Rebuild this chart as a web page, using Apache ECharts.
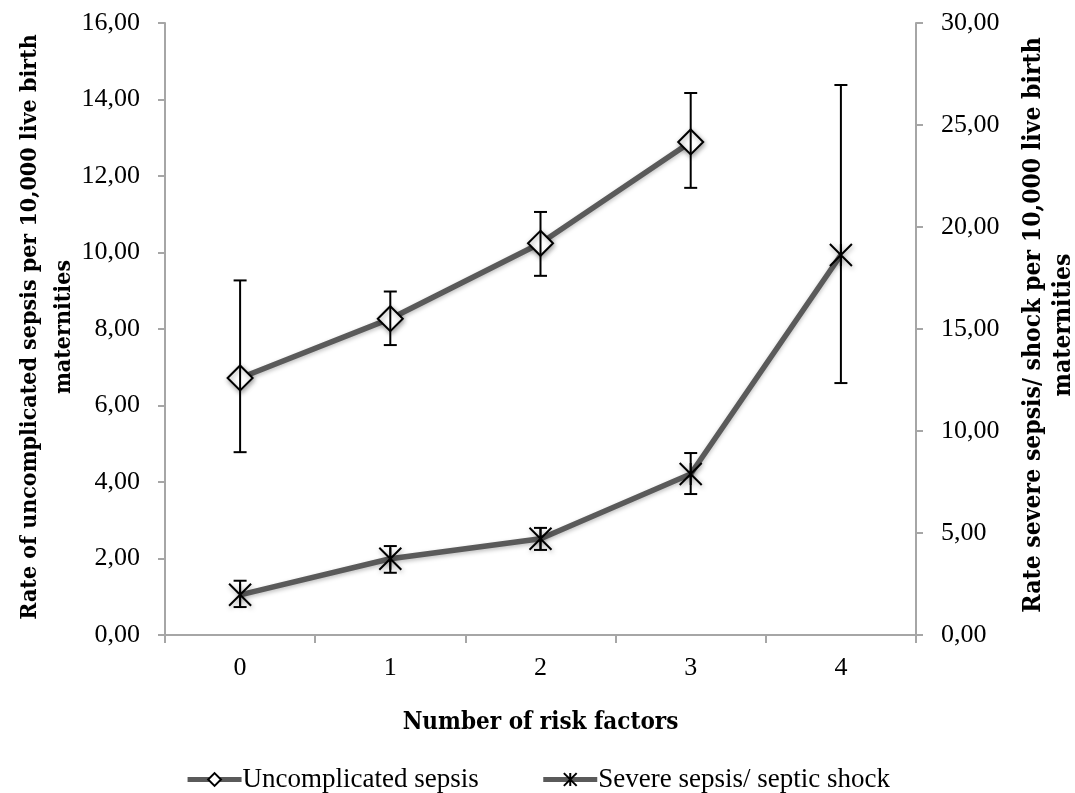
<!DOCTYPE html>
<html>
<head>
<meta charset="utf-8">
<script src="https://cdn.jsdelivr.net/npm/echarts@6/dist/echarts.min.js"></script>
<style>
  html, body { margin: 0; padding: 0; background: #fff; }
  #chart { width: 1075px; height: 793px; }
</style>
</head>
<body>
<div id="chart"></div>
<script>
// Number of risk factors
const categories = ['0', '1', '2', '3', '4'];

// Uncomplicated sepsis rate (left axis) with confidence limits
const uncomplicated = [6.72, 8.27, 10.24, 12.89, null];
const uncomplicatedLow = [4.78, 7.58, 9.39, 11.69, null];
const uncomplicatedHigh = [9.27, 8.98, 11.06, 14.17, null];

// Severe sepsis / septic shock rate (right axis) with confidence limits
const severe = [1.97, 3.74, 4.72, 7.89, 18.63];
const severeLow = [1.37, 3.05, 4.17, 6.91, 12.35];
const severeHigh = [2.66, 4.36, 5.25, 8.92, 26.96];

const fmt = v => v.toFixed(2).replace('.', ',');
const serif = '"Liberation Serif", "DejaVu Serif", serif';
const titleFont = '"DejaVu Serif Condensed", "DejaVu Serif", serif';

function errorData(low, high) {
  const out = [];
  categories.forEach((c, i) => {
    if (low[i] != null && high[i] != null) out.push([i, low[i], high[i]]);
  });
  return out;
}

function errorBar(params, api) {
  const x = api.value(0);
  const p1 = api.coord([x, api.value(1)]);
  const p2 = api.coord([x, api.value(2)]);
  const cap = 6.5;
  const style = { stroke: '#000', lineWidth: 2 };
  return {
    type: 'group',
    children: [
      { type: 'line', shape: { x1: p1[0], y1: p1[1], x2: p2[0], y2: p2[1] }, style },
      { type: 'line', shape: { x1: p1[0] - cap, y1: p1[1], x2: p1[0] + cap, y2: p1[1] }, style },
      { type: 'line', shape: { x1: p2[0] - cap, y1: p2[1], x2: p2[0] + cap, y2: p2[1] }, style }
    ]
  };
}

const axisGray = '#a6a6a6';
const lineGray = '#5a5a5a';
const markerShadow = { shadowBlur: 5, shadowColor: 'rgba(0,0,0,0.35)', shadowOffsetX: 1, shadowOffsetY: 2 };
const lineShadow = { shadowBlur: 4, shadowColor: 'rgba(0,0,0,0.25)', shadowOffsetY: 2 };

const chart = echarts.init(document.getElementById('chart'));
chart.setOption({
  animation: false,
  backgroundColor: '#fff',
  grid: { left: 165, right: 159, top: 23, bottom: 158 },
  legend: {
    top: 761,
    left: 'center',
    itemWidth: 54,
    itemHeight: 16,
    itemGap: 62,
    lineStyle: { width: 5, color: lineGray, shadowBlur: 0 },
    itemStyle: { shadowBlur: 0, borderWidth: 2 },
    textStyle: { fontFamily: serif, fontSize: 27, color: '#000', padding: [0, 0, 0, -4] },
    data: ['Uncomplicated sepsis', 'Severe sepsis/ septic shock']
  },
  xAxis: {
    type: 'category',
    data: categories,
    boundaryGap: true,
    axisLine: { lineStyle: { color: axisGray, width: 2 } },
    axisTick: { show: true, length: 8, lineStyle: { color: axisGray, width: 2 } },
    axisLabel: { fontFamily: serif, fontSize: 26, color: '#000', margin: 20 },
    name: 'Number of risk factors',
    nameLocation: 'middle',
    nameGap: 76,
    nameTextStyle: { fontFamily: titleFont, fontWeight: 'bold', fontSize: 24, color: '#000' }
  },
  yAxis: [
    {
      type: 'value', min: 0, max: 16, interval: 2, position: 'left',
      splitLine: { show: false },
      axisLine: { show: true, lineStyle: { color: axisGray, width: 2 } },
      axisTick: { show: true, length: 7, lineStyle: { color: axisGray, width: 2 } },
      axisLabel: { formatter: fmt, fontFamily: serif, fontSize: 26, color: '#000', margin: 25 }
    },
    {
      type: 'value', min: 0, max: 30, interval: 5, position: 'right',
      splitLine: { show: false },
      axisLine: { show: true, lineStyle: { color: axisGray, width: 2 } },
      axisTick: { show: true, length: 7, lineStyle: { color: axisGray, width: 2 } },
      axisLabel: { formatter: fmt, fontFamily: serif, fontSize: 26, color: '#000', margin: 25 }
    }
  ],
  graphic: [
    {
      type: 'text', x: 47, y: 327, rotation: Math.PI / 2,
      style: {
        text: 'Rate of uncomplicated sepsis per 10,000 live birth\nmaternities',
        font: 'bold 23px ' + titleFont, fill: '#000',
        align: 'center', verticalAlign: 'middle', lineHeight: 34
      }
    },
    {
      type: 'text', x: 1049, y: 325, rotation: Math.PI / 2,
      style: {
        text: 'Rate severe sepsis/ shock per 10,000 live birth\nmaternities',
        font: 'bold 24.5px ' + titleFont, fill: '#000',
        align: 'center', verticalAlign: 'middle', lineHeight: 30
      }
    }
  ],
  series: [
    {
      name: 'Uncomplicated sepsis',
      type: 'line',
      yAxisIndex: 0,
      data: uncomplicated,
      symbol: 'diamond',
      symbolSize: 25,
      lineStyle: Object.assign({ color: lineGray, width: 5.5 }, lineShadow),
      itemStyle: Object.assign({ color: '#fff', borderColor: '#000', borderWidth: 2 }, markerShadow),
      z: 3
    },
    {
      name: 'Severe sepsis/ septic shock',
      type: 'line',
      yAxisIndex: 1,
      data: severe,
      symbol: 'path://M0,0L20,20M20,0L0,20M10,0L10,20',
      symbolSize: 22,
      symbolKeepAspect: true,
      lineStyle: Object.assign({ color: lineGray, width: 5.5 }, lineShadow),
      itemStyle: Object.assign({ color: 'none', borderColor: '#000', borderWidth: 2 }, markerShadow),
      z: 3
    },
    {
      type: 'custom',
      yAxisIndex: 0,
      data: errorData(uncomplicatedLow, uncomplicatedHigh),
      renderItem: errorBar,
      z: 4,
      silent: true
    },
    {
      type: 'custom',
      yAxisIndex: 1,
      data: errorData(severeLow, severeHigh),
      renderItem: errorBar,
      z: 4,
      silent: true
    }
  ]
});
</script>
</body>
</html>
